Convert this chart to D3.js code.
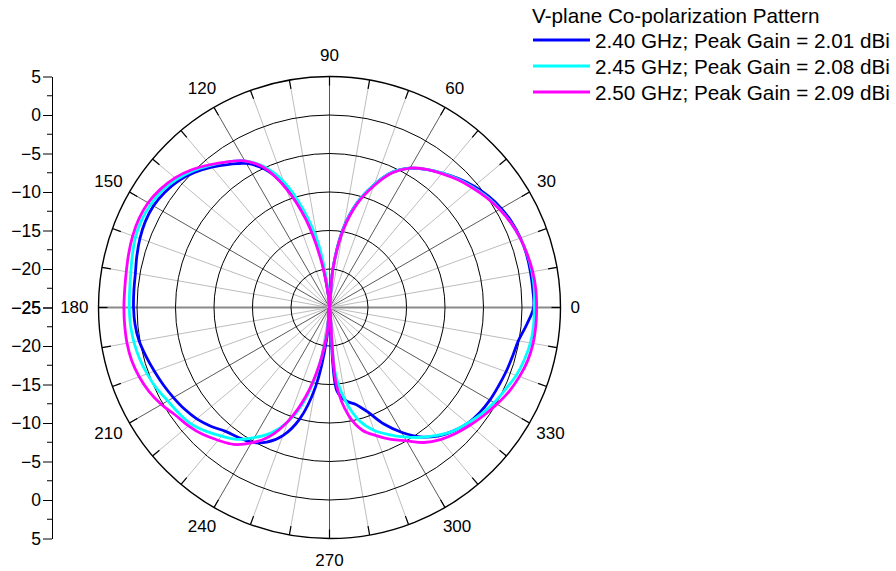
<!DOCTYPE html>
<html><head><meta charset="utf-8">
<script src="https://cdn.jsdelivr.net/npm/d3@7"></script>
<style>
body{margin:0;background:#fff}
svg{display:block}
text{font-family:Arial,"Liberation Sans",sans-serif;fill:#000}
</style>
</head><body>
<svg id="chart" width="896" height="571"></svg>
<script>
// ---------------- data ----------------
const angles = [0,5,10,15,20,25,30,35,40,45,50,55,60,65,70,75,80,85,90,95,100,105,110,115,120,125,130,135,140,145,150,155,160,165,170,175,
  180,185,190,195,200,205,210,215,220,225,230,235,240,245,250,255,260,265,270,275,280,285,290,295,300,305,310,315,320,325,330,335,340,345,350,355];

const gain240 = [1.5,1.5,1.5,1.5,1.4,1.15,0.75,0.2,-0.5,-1.3,-2.2,-3.1,-4.1,-5.6,-8.0,-10.8,-14.5,-20,-26,-23.5,-18.0,-12.6,-8.3,-5.2,-3.4,-2.3,-1.2,-0.2,0.6,1.1,1.4,1.4,1.2,0.9,0.6,0.5,
  0.45,0.35,0.1,-0.35,-0.8,-1.2,-1.6,-2.0,-2.5,-3.2,-4.0,-4.4,-4.8,-5.7,-7.3,-10.0,-14.5,-21,-26,-14.2,-12.7,-12.0,-10.6,-8.3,-6.3,-4.5,-3.2,-2.3,-1.6,-1.2,-0.95,-0.8,-0.6,-0.4,-0.1,0.7];

const gain245 = [1.6,1.7,1.7,1.6,1.35,1.0,0.55,0,-0.7,-1.4,-2.2,-3.1,-4.1,-5.6,-8.0,-10.8,-14.6,-20,-26,-22.5,-16.5,-11.8,-7.6,-4.8,-3.0,-1.9,-0.9,0.1,0.9,1.5,1.8,1.9,1.8,1.5,1.2,1.05,
  1.0,0.95,0.8,0.55,0.2,-0.2,-0.75,-1.1,-1.5,-2.3,-3.2,-4.1,-5.5,-7.0,-9.2,-12.5,-17.5,-22.5,-26,-16.5,-12.5,-9.7,-8.0,-6.8,-5.6,-4.4,-3.3,-2.3,-1.6,-0.9,-0.3,0.2,0.8,1.2,1.5,1.6];

const gain250 = [1.9,1.9,1.8,1.6,1.35,1.0,0.5,-0.1,-0.8,-1.5,-2.3,-3.1,-4.1,-5.7,-8.2,-11.0,-14.8,-20,-26,-23.5,-18.9,-13.2,-8.6,-5.0,-3.0,-1.9,-0.8,0.3,1.2,1.8,2.2,2.3,2.2,2.0,1.8,1.7,
  1.7,1.7,1.7,1.6,1.3,0.85,0.2,-0.6,-1.1,-1.7,-2.5,-3.3,-4.7,-6.5,-9.3,-13.0,-17.5,-22,-26,-15.0,-10.8,-8.5,-7.3,-6.1,-5.0,-3.6,-2.6,-1.85,-1.2,-0.55,0.1,0.75,1.25,1.65,1.85,1.9];

const seriesNames  = ["2.40 GHz; Peak Gain = 2.01 dBi","2.45 GHz; Peak Gain = 2.08 dBi","2.50 GHz; Peak Gain = 2.09 dBi"];
const seriesColors = ["#0000ff","#00ffff","#ff00ff"];
const seriesValues = [gain240, gain245, gain250];
const legendTitle = "V-plane Co-polarization Pattern";

const ringValues = [-20,-15,-10,-5,0,5];
const spokeAngles = [0,10,20,30,40,50,60,70,80,90,100,110,120,130,140,150,160,170,180,190,200,210,220,230,240,250,260,270,280,290,300,310,320,330,340,350];
const angleLabels = [0,30,60,90,120,150,180,210,240,270,300,330];
const axisTicks = [-25,-20,-15,-10,-5,0,5];
const axisMinorTicks = [-22.5,-17.5,-12.5,-7.5,-2.5,2.5];

// ---------------- layout ----------------
const svg = d3.select("#chart");
const cx = 329.5, cy = 307.5, R = 231;
const rScale = d3.scaleLinear().domain([-25,5]).range([0,R]).clamp(true);
const rad = a => a*Math.PI/180;

const g = svg.append("g").attr("transform",`translate(${cx},${cy})`);

// spokes
g.selectAll("line.spoke").data(spokeAngles).join("line")
  .attr("x1",0).attr("y1",0)
  .attr("x2",a=>R*Math.cos(rad(a))).attr("y2",a=>-R*Math.sin(rad(a)))
  .attr("stroke",a=> (a%180===0) ? "#8a8a8a" : (a%90===0 ? "#555" : (a%30===0 ? "#5a5a5a" : "#bdbdbd")))
  .attr("stroke-width",a=> (a%180===0) ? 2 : 1);

// rings
g.selectAll("circle.ring").data(ringValues).join("circle")
  .attr("r",v=>rScale(v)).attr("fill","none").attr("stroke","#000")
  .attr("stroke-width",v=> v===5 ? 1.4 : 1);

// outer ticks
g.selectAll("line.otick").data(spokeAngles).join("line")
  .attr("x1",a=>(R-9)*Math.cos(rad(a))).attr("y1",a=>-(R-9)*Math.sin(rad(a)))
  .attr("x2",a=>R*Math.cos(rad(a))).attr("y2",a=>-R*Math.sin(rad(a)))
  .attr("stroke","#000").attr("stroke-width",1.2);

// series
const line = d3.lineRadial()
  .angle(d=>rad(90-d[0]))
  .radius(d=>rScale(d[1]))
  .curve(d3.curveCatmullRomClosed.alpha(0.5));
seriesValues.forEach((vals,i)=>{
  const pts = angles.map((a,j)=>[a, vals[j]]);
  g.append("path").attr("d",line(pts)).attr("fill","none")
    .attr("stroke",seriesColors[i]).attr("stroke-width",2.8).attr("stroke-linejoin","round");
});

// angle labels
angleLabels.forEach(a=>{
  const t = g.append("text").text(a).attr("font-size",17)
    .attr("text-anchor","middle").attr("dominant-baseline","central");
  const w = t.node().getComputedTextLength();
  const c = Math.cos(rad(a)), s = Math.sin(rad(a));
  t.attr("x",(R+10)*c + (w/2)*c).attr("y",-((R+10)*s + 11.5*s));
});

// left axes (two halves meeting at -25)
const yTop = d3.scaleLinear().domain([-25,5]).range([cy, cy-R]);
const yBot = d3.scaleLinear().domain([-25,5]).range([cy, cy+R]);
[yTop,yBot].forEach(sc=>{
  const ax = svg.append("g").attr("transform","translate(52,0)");
  ax.call(d3.axisLeft(sc).tickValues(axisTicks).tickSize(9).tickSizeOuter(0).tickPadding(2));
  ax.selectAll("text").attr("font-size",17.5).style("font-family","Arial, 'Liberation Sans', sans-serif");
  ax.select(".domain").attr("stroke","#000");
  ax.selectAll(".tick line").attr("stroke","#000");
  const mn = svg.append("g").attr("transform","translate(52,0)");
  mn.selectAll("line").data(axisMinorTicks).join("line")
    .attr("x1",-5).attr("x2",0).attr("y1",d=>sc(d)).attr("y2",d=>sc(d)).attr("stroke","#000");
});

// legend
const lg = svg.append("g");
lg.append("text").attr("x",532).attr("y",15).attr("dominant-baseline","central")
  .attr("font-size",20.7).text(legendTitle);
seriesNames.forEach((n,i)=>{
  const y = 40 + i*26;
  lg.append("line").attr("x1",533).attr("x2",590).attr("y1",y).attr("y2",y)
    .attr("stroke",seriesColors[i]).attr("stroke-width",3);
  lg.append("text").attr("x",595).attr("y",y).attr("dominant-baseline","central")
    .attr("font-size",20.7).text(n);
});
</script>
</body></html>
